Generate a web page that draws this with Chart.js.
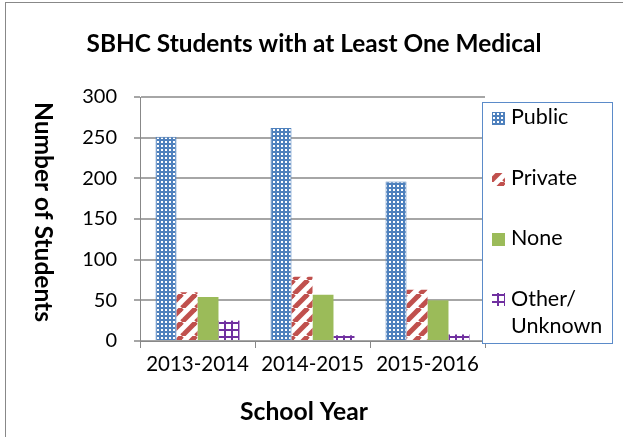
<!DOCTYPE html>
<html>
<head>
<meta charset="utf-8">
<script src="https://cdn.jsdelivr.net/npm/chart.js@4.4.1/dist/chart.umd.min.js"></script>
<style>
  html, body { margin: 0; padding: 0; background: #fff; }
  #wrap { width: 623px; height: 437px; position: relative; }
</style>
</head>
<body>
<div id="wrap"><canvas id="chart" width="623" height="437"></canvas></div>
<script>
// chart data
const years = ['2013-2014', '2014-2015', '2015-2016'];
const seriesNames = ['Public', 'Private', 'None', 'Other/Unknown'];
const publicVals = [251, 262, 196];
const privateVals = [60, 79, 63];
const noneVals = [54, 57, 50];
const otherVals = [25, 7, 8];
const yTicks = [0, 50, 100, 150, 200, 250, 300];

const FONT = 'Lato, "Open Sans", sans-serif';

// small tiles for the Excel-style fills
function makePattern(size, paint) {
    const c = document.createElement('canvas');
    c.width = size; c.height = size;
    paint(c.getContext('2d'), size);
    return c.getContext('2d').createPattern(c, 'repeat');
}

const dotsFill = makePattern(4, (g) => {
    g.fillStyle = '#4F81BD'; g.fillRect(0, 0, 4, 4);
    g.fillStyle = '#fff'; g.fillRect(1, 1, 2, 2);
});
const stripeFill = makePattern(14, (g, s) => {
    g.fillStyle = '#fff'; g.fillRect(0, 0, s, s);
    g.strokeStyle = '#C0504D'; g.lineWidth = 5;
    [-s, 0, s].forEach((dx) => {
        g.beginPath(); g.moveTo(dx, s); g.lineTo(dx + s, 0); g.stroke();
    });
});
const gridFill = makePattern(7, (g) => {
    g.fillStyle = '#fff'; g.fillRect(0, 0, 7, 7);
    g.fillStyle = '#7030A0';
    g.fillRect(0, 0, 2, 7); g.fillRect(0, 0, 7, 2);
});

const fills = [dotsFill, stripeFill, '#9BBB59', gridFill];

// pick a bold size so the string spans the given width
function fitBold(ctx, text, width) {
    ctx.font = 'bold 20px ' + FONT;
    const size = 20 * width / ctx.measureText(text).width;
    ctx.font = 'bold ' + size.toFixed(2) + 'px ' + FONT;
}

const frameAndText = {
    id: 'frameAndText',
    beforeDraw: (chart) => {
        const { ctx } = chart;
        ctx.save();
        ctx.fillStyle = '#fff';
        ctx.fillRect(0, 0, chart.width, chart.height);
        ctx.restore();
    },
    afterDraw: (chart) => {
        const { ctx } = chart;
        ctx.save();
        // outer frame (only left/top edges fall inside the picture)
        ctx.strokeStyle = '#888';
        ctx.lineWidth = 1;
        ctx.strokeRect(5.5, 2.5, 700, 500);

        ctx.fillStyle = '#000';
        ctx.textAlign = 'center';
        ctx.textBaseline = 'alphabetic';
        const title = 'SBHC Students with at Least One Medical';
        fitBold(ctx, title, 455);
        ctx.fillText(title, 314, 52);

        fitBold(ctx, 'School Year', 128);
        ctx.fillText('School Year', 304, 420);

        ctx.save();
        ctx.translate(35, 212);
        ctx.rotate(Math.PI / 2);
        fitBold(ctx, 'Number of Students', 220);
        ctx.fillText('Number of Students', 0, 0);
        ctx.restore();

        // legend box
        const bx = 482, by = 102, bw = 130, bh = 241;
        ctx.fillStyle = '#fff';
        ctx.fillRect(bx, by, bw, bh);
        ctx.strokeStyle = '#5B8BC9';
        ctx.strokeRect(bx + 0.5, by + 0.5, bw, bh);

        const rows = [117.5, 178.5, 238.5, 299];
        ctx.font = '21.5px ' + FONT;
        ctx.textAlign = 'left';
        ctx.textBaseline = 'middle';
        chart.data.datasets.forEach((ds, i) => {
            const y = rows[i];
            ctx.fillStyle = ds.backgroundColor;
            ctx.fillRect(492, Math.round(y - 6), 13, 13);
            ctx.fillStyle = '#000';
            const parts = ds.label.split('/');
            if (parts.length > 1) {
                ctx.fillText(parts[0] + '/', 511, y);
                ctx.fillText(parts[1], 511, y + 27.5);
            } else {
                ctx.fillText(ds.label, 511, y);
            }
        });
        ctx.restore();
    }
};

const values = [publicVals, privateVals, noneVals, otherVals];

new Chart(document.getElementById('chart'), {
    type: 'bar',
    data: {
        labels: years,
        datasets: seriesNames.map((name, i) => ({
            label: name,
            data: values[i],
            backgroundColor: fills[i],
            borderWidth: i === 0 ? 1 : 0,
            borderColor: '#4F81BD',
            barPercentage: 1,
            categoryPercentage: 0.73
        }))
    },
    options: {
        responsive: false,
        animation: false,
        layout: { padding: { top: 97, right: 138, bottom: 0, left: 0 } },
        plugins: { legend: { display: false }, tooltip: { enabled: false }, title: { display: false } },
        scales: {
            x: {
                afterFit: (s) => { s.height = 96; },
                grid: { offset: true, drawOnChartArea: false, drawTicks: true, tickLength: 7, color: '#888', lineWidth: 1 },
                border: { color: '#888', width: 1 },
                ticks: { color: '#000', font: { family: FONT, size: 20.5 }, padding: 4, maxRotation: 0, autoSkip: false }
            },
            y: {
                min: 0,
                max: 300,
                afterFit: (s) => { s.width = 140; },
                afterBuildTicks: (s) => { s.ticks = yTicks.map(v => ({ value: v })); },
                grid: { color: '#A6A6A6', lineWidth: 2, tickLength: 6 },
                border: { color: '#888', width: 1 },
                ticks: { color: '#000', font: { family: FONT, size: 20 }, padding: 17 }
            }
        }
    },
    plugins: [frameAndText]
});
</script>
</body>
</html>
